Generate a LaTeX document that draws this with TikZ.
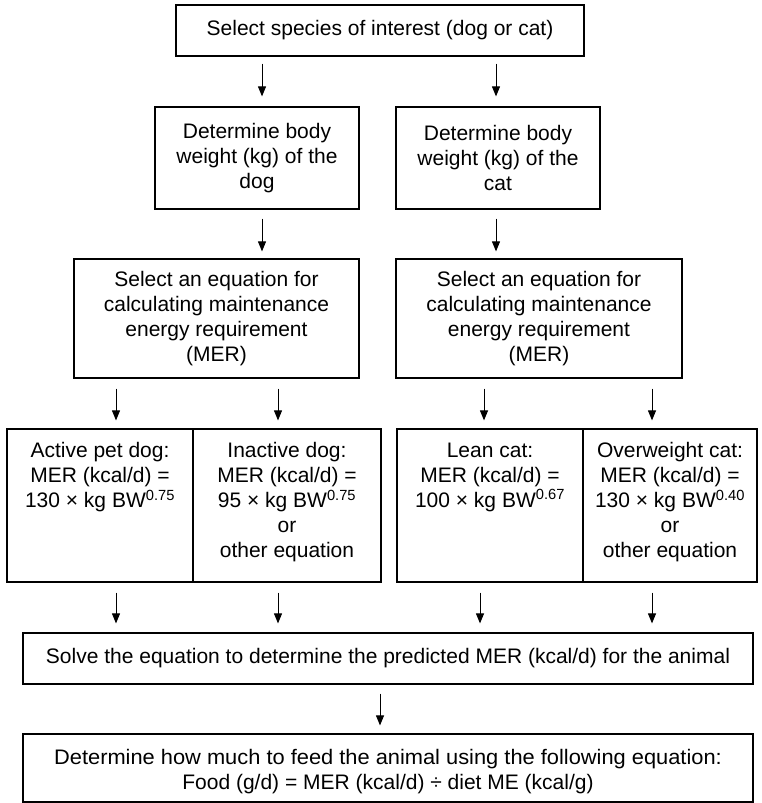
\documentclass[tikz,border=0pt]{standalone}
\usepackage{fontspec}
\setmainfont{Liberation Sans}
\usetikzlibrary{arrows.meta}
\begin{document}
\begin{tikzpicture}[x=1pt,y=-1pt,
  box/.style={draw, line width=1.2pt, inner sep=0pt, align=center, font=\fontsize{21}{25}\selectfont},
  txt/.style={inner sep=0pt, align=center, font=\fontsize{21}{25}\selectfont},
  arr/.style={-{Triangle[length=10pt,width=8pt]}, line width=1pt}]
\useasboundingbox (0,0) rectangle (761,803);
\node[box, minimum width=408pt, minimum height=51pt] (top) at (380,30.5) {Select species of interest (dog or cat)};
\node[box, minimum width=204pt, minimum height=102pt] (dogw) at (257,158) {Determine body\\weight (kg) of the\\dog};
\node[box, minimum width=204pt, minimum height=102pt] (catw) at (498,158) {Determine body\\weight (kg) of the\\cat};
\node[box, minimum width=285pt, minimum height=119pt] (dogmer) at (216.5,318.5) {Select an equation for\\calculating maintenance\\energy requirement\\(MER)};
\node[box, minimum width=286pt, minimum height=119pt] (catmer) at (539,318.5) {Select an equation for\\calculating maintenance\\energy requirement\\(MER)};
\node[box, minimum width=186pt, minimum height=153pt] (active) at (100,505.5) {};
\node[box, minimum width=188pt, minimum height=153pt] (inactive) at (287,505.5) {};
\node[box, minimum width=186pt, minimum height=153pt] (lean) at (490,505.5) {};
\node[box, minimum width=174pt, minimum height=153pt] (over) at (670,505.5) {};
\node[txt, anchor=north] (activet) at ([yshift=-14pt]active.north) {Active pet dog:\\MER (kcal/d) =\\130 × kg BW\textsuperscript{0.75}};
\node[txt, anchor=north] (inactivet) at ([yshift=-14pt]inactive.north) {Inactive dog:\\MER (kcal/d) =\\95 × kg BW\textsuperscript{0.75}\\or\\other equation};
\node[txt, anchor=north] (leant) at ([yshift=-14pt]lean.north) {Lean cat:\\MER (kcal/d) =\\100 × kg BW\textsuperscript{0.67}};
\node[txt, anchor=north] (overt) at ([yshift=-14pt]over.north) {Overweight cat:\\MER (kcal/d) =\\130 × kg BW\textsuperscript{0.40}\\or\\other equation};
\node[box, minimum width=730pt, minimum height=51pt] (solve) at (388,658.5) {Solve the equation to determine the predicted MER (kcal/d) for the animal};
\node[box, minimum width=730pt, minimum height=68pt] (final) at (388,768) {};
\node[txt] (finalt) at (388,772) {\scalebox{1.04}[1]{Determine how much to feed the animal using the following equation:}\\Food (g/d) = MER (kcal/d) ÷ diet ME (kcal/g)};
% arrows
\draw[arr, shorten <=7pt, shorten >=10pt] (top.south -| 262,0) -- (dogw.north -| 262,0);
\draw[arr, shorten <=7pt, shorten >=10pt] (top.south -| 496,0) -- (catw.north -| 496,0);
\draw[arr, shorten <=9pt, shorten >=7pt] (dogw.south -| 262,0) -- (dogmer.north -| 262,0);
\draw[arr, shorten <=9pt, shorten >=7pt] (catw.south -| 496,0) -- (catmer.north -| 496,0);
\draw[arr, shorten <=10pt, shorten >=8pt] (dogmer.south -| 116,0) -- (active.north -| 116,0);
\draw[arr, shorten <=10pt, shorten >=8pt] (dogmer.south -| 278,0) -- (inactive.north -| 278,0);
\draw[arr, shorten <=10pt, shorten >=8pt] (catmer.south -| 484,0) -- (lean.north -| 484,0);
\draw[arr, shorten <=10pt, shorten >=8pt] (catmer.south -| 652,0) -- (over.north -| 652,0);
\draw[arr, shorten <=10pt, shorten >=9pt] (active.south -| 116,0) -- (solve.north -| 116,0);
\draw[arr, shorten <=10pt, shorten >=9pt] (inactive.south -| 278,0) -- (solve.north -| 278,0);
\draw[arr, shorten <=10pt, shorten >=9pt] (lean.south -| 480,0) -- (solve.north -| 480,0);
\draw[arr, shorten <=10pt, shorten >=9pt] (over.south -| 652,0) -- (solve.north -| 652,0);
\draw[arr, shorten <=9pt, shorten >=8pt] (solve.south -| 380,0) -- (final.north -| 380,0);
\end{tikzpicture}
\end{document}
